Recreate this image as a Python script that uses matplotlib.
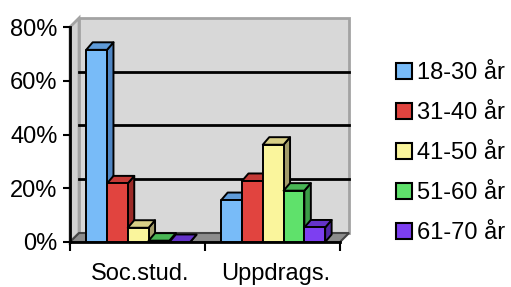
import matplotlib.pyplot as plt
from matplotlib.patches import Polygon, Patch

# data
grupper = ['Soc.stud.', 'Uppdrags.']
aldrar = ['18-30 år', '31-40 år', '41-50 år', '51-60 år', '61-70 år']
soc = [71.5, 21.8, 5.3, 0.5, 0.0]
upp = [15.6, 22.7, 36.2, 19.1, 5.4]
yticks = [0, 20, 40, 60, 80]
ylabels = ['0%', '20%', '40%', '60%', '80%']

# front / top / side colours per series
fram = ['#78bbf8', '#e1443f', '#faf59c', '#5fe16b', '#7d3ff1']
topp = ['#5f9bd8', '#c43a36', '#d8cf86', '#49b655', '#6433c9']
sida = ['#4f86c4', '#9c2a27', '#a29c6a', '#3c9c47', '#5128a6']

plt.rcParams['font.family'] = ['Liberation Sans', 'DejaVu Sans']
fs = 17

fig = plt.figure(figsize=(5.11, 2.87), dpi=100)
ax = fig.add_axes([70 / 511, 45 / 287, 270 / 511, 215 / 287])
ax.set_xlim(0, 2)
ax.set_ylim(0, 80)

# 3d depth (wall and bars), in data units
wx, wy = 0.067, 3.35
bx, by = 0.048, 2.8
bw = 0.154
start = 0.12

# walls and floor
vagg = Polygon([(wx, wy), (2 + wx, wy), (2 + wx, 80 + wy), (wx, 80 + wy)],
               closed=True, fc='#d8d8d8', ec='#a3a3a3', lw=2, clip_on=False, zorder=0.5)
ax.add_patch(vagg)
vv = Polygon([(0, 0), (wx, wy), (wx, 80 + wy), (0, 80)],
             closed=True, fc='#d2d2d2', ec='#a3a3a3', lw=2, clip_on=False, zorder=0.4)
ax.add_patch(vv)
golv = Polygon([(0, 0), (2, 0), (2 + wx, wy), (wx, wy)],
               closed=True, fc='#8c8c8c', ec='#444444', lw=1.5, clip_on=False, zorder=0.6)
ax.add_patch(golv)
for v in yticks[1:-1]:
    ax.plot([wx, 2 + wx], [v + wy, v + wy], color='black', lw=2, clip_on=False, zorder=0.7)

# bars
varden = [soc, upp]
for g in range(len(grupper)):
    for i in range(len(aldrar)):
        h = varden[g][i]
        x0 = g + start + i * bw
        x1 = x0 + bw
        z = 3 + i
        kw = dict(closed=True, ec='black', lw=1.4, clip_on=False, joinstyle='round')
        ax.add_patch(Polygon([(x1, 0), (x1 + bx, by), (x1 + bx, h + by), (x1, h)],
                             fc=sida[i], zorder=z, **kw))
        ax.add_patch(Polygon([(x0, h), (x1, h), (x1 + bx, h + by), (x0 + bx, h + by)],
                             fc=topp[i], zorder=z, **kw))
        if h > 0:
            ax.add_patch(Polygon([(x0, 0), (x1, 0), (x1, h), (x0, h)],
                                 fc=fram[i], zorder=z, **kw))

# axes
for s in ['top', 'right']:
    ax.spines[s].set_visible(False)
for s in ['left', 'bottom']:
    ax.spines[s].set_linewidth(2)
ax.set_facecolor('none')
ax.set_yticks(yticks)
ax.set_yticklabels(ylabels, fontsize=fs)
ax.tick_params(axis='y', length=5, width=1.5, pad=4)
ax.set_xticks([0, 1, 2])
ax.set_xticklabels([])
ax.tick_params(axis='x', which='major', length=6.5, width=1.5)
ax.set_xticks([g + 0.52 for g in range(len(grupper))], minor=True)
ax.set_xticklabels(grupper, minor=True, fontsize=fs)
ax.tick_params(axis='x', which='minor', length=0, pad=15)

handles = [Patch(fc=fram[i], ec='black', lw=1.5) for i in range(len(aldrar))]
fig.legend(handles, aldrar, loc='center left', bbox_to_anchor=(396 / 511, 1 - 153 / 287),
           frameon=False, fontsize=fs, handlelength=0.68, handleheight=0.68,
           handletextpad=0.22, labelspacing=0.76, borderpad=0, borderaxespad=0)

fig.savefig('out.png', dpi=100)
